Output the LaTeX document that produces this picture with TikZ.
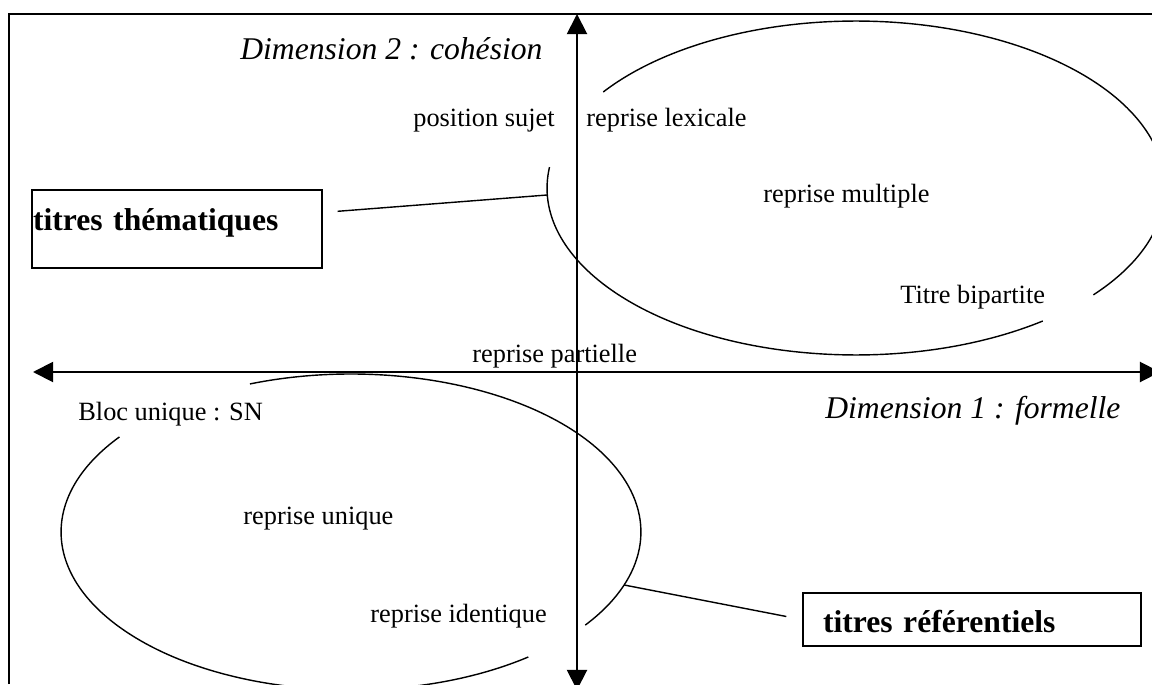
\documentclass[tikz,border=0pt]{standalone}
\usepackage{fontspec}
\setmainfont{Liberation Serif}
\usetikzlibrary{arrows.meta,calc}

\begin{document}
\begin{tikzpicture}[x=0.02cm, y=0.02cm,
    axis/.style={line width=1.1pt, {Triangle[width=11.4pt,length=11.4pt]}-{Triangle[width=11.4pt,length=11.4pt]}},
    oval/.style={line width=0.8pt},
    link/.style={line width=0.8pt},
    word/.style={inner sep=0, anchor=base west, font=\fontsize{15}{18}\selectfont},
    dim/.style={inner sep=0, anchor=base west, font=\fontsize{18}{22}\selectfont\itshape},
    titlebox/.style={draw, line width=0.8pt, inner ysep=0, align=left, font=\fontsize{18}{22}\selectfont\bfseries}]
  \useasboundingbox (0,0) rectangle (1152,684);
  % frame
  \draw[line width=1.1pt] (9,0) -- (9,670) -- (1152,670);
  % axes
  \coordinate (ytop) at (577,670);
  \coordinate (ybot) at (577,-6);
  \coordinate (xleft) at (33,312);
  \coordinate (xright) at (1160,312);
  \draw[axis] (ybot) -- (ytop);
  \draw[axis] (xleft) -- (xright);
  \node[dim] (dimcoh) at (240,624) {Dimension 2 : cohésion};
  \node[dim] (dimform) at (825,266) {Dimension 1 : formelle};
  % ovals
  \coordinate (upc) at (856,496);
  \coordinate (loc) at (351,152);
  \draw[oval] ($(upc)+(172.8:6.18cm and 3.34cm)$) arc[start angle=172.8, end angle=307.2, x radius=6.18cm, y radius=3.34cm];
  \draw[oval] ($(upc)+(-39.8:6.18cm and 3.34cm)$) arc[start angle=-39.8, end angle=144.9, x radius=6.18cm, y radius=3.34cm];
  \draw[oval] ($(loc)+(110.4:5.8cm and 3.16cm)$) arc[start angle=110.4, end angle=-36.1, x radius=5.8cm, y radius=3.16cm];
  \draw[oval] ($(loc)+(-52.3:5.8cm and 3.16cm)$) arc[start angle=-52.3, end angle=-217, x radius=5.8cm, y radius=3.16cm];
  % labels
  \node[word] (sujet) at (413,557) {position sujet};
  \node[word] (lexic) at (586,557) {reprise lexicale};
  \node[word] (multi) at (763,481) {reprise multiple};
  \node[word] (bipart) at (900,381) {Titre bipartite};
  \node[word] (partiel) at (472,322) {reprise partielle};
  \node[word] (bloc) at (78,264) {Bloc unique : SN};
  \node[word] (uniq) at (243,160) {reprise unique};
  \node[word] (ident) at (370,62) {reprise identique};
  % boxes
  \node[titlebox, inner xsep=0.02cm, text width=5.76cm, text height=0.8cm, text depth=0.76cm] (thema) at (177,455) {titres thématiques};
  \node[titlebox, inner xsep=0.4cm, text width=5.96cm, text height=0.78cm, text depth=0.28cm] (refer) at (972,64.5) {titres référentiels};
  \coordinate (joinA) at ($(upc)+(182.4:6.18cm and 3.34cm)$);
  \coordinate (joinB) at ($(loc)+(-19.6:5.8cm and 3.16cm)$);
  \draw[link] ($(thema.north east)+(15,-22)$) -- (joinA);
  \draw[link] (joinB) -- ($(refer.west)+(-16,3)$);
\end{tikzpicture}
\end{document}
